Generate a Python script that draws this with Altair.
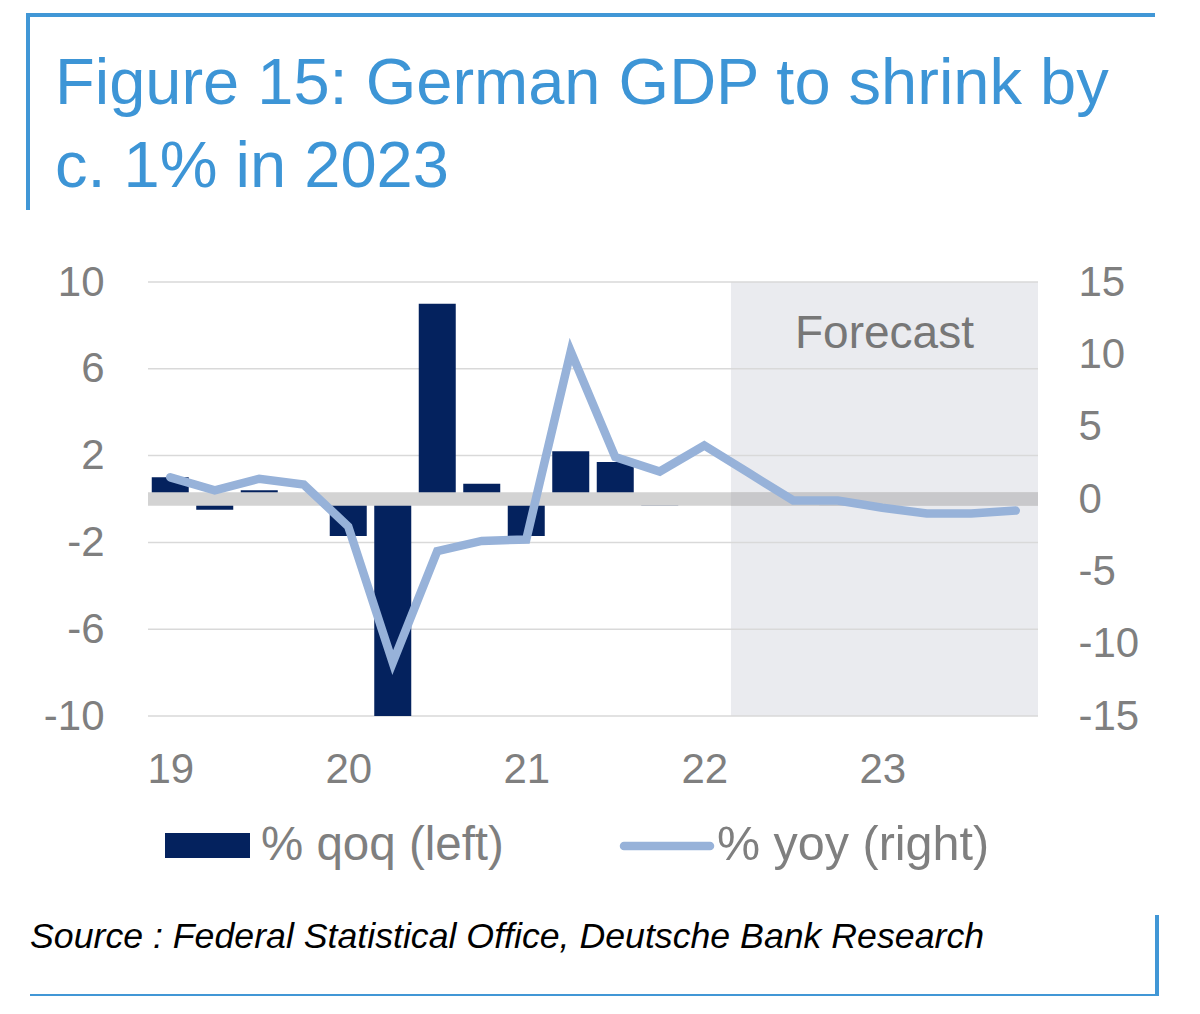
import altair as alt
import pandas as pd

# ---- data ----
quarters = ["19Q1", "19Q2", "19Q3", "19Q4", "20Q1", "20Q2", "20Q3", "20Q4",
            "21Q1", "21Q2", "21Q3", "21Q4", "22Q1", "22Q2", "22Q3", "22Q4",
            "23Q1", "23Q2", "23Q3", "23Q4"]
qoq = [1.0, -0.5, 0.4, -0.1, -1.7, -10.0, 9.0, 0.7, -1.7, 2.2,
       1.7, -0.3, 0.2, 0.1, -0.2, -0.3, -0.2, -0.1, 0.1, 0.2]
yoy = [1.5, 0.6, 1.4, 1.0, -1.9, -11.3, -3.6, -2.9, -2.8, 10.2,
       2.9, 1.9, 3.7, 1.8, -0.1, -0.1, -0.6, -1.0, -1.0, -0.8]
year_labels = ["19", "20", "21", "22", "23"]
left_ticks = [10, 6, 2, -2, -6, -10]
right_ticks = [15, 10, 5, 0, -5, -10, -15]
forecast_start = 12.6   # quarter index where the shaded forecast region begins
forecast_end = 19.5

series_qoq = "% qoq (left)"
series_yoy = "% yoy (right)"

df = pd.DataFrame({
    "idx": list(range(len(quarters))),
    "quarter": quarters,
    "qoq": qoq,
    "yoy": yoy,
})
grid_df = pd.DataFrame({"v": left_ticks})
one = pd.DataFrame({"k": [0]})

FONT = "Liberation Sans"
NAVY = "#04225e"
LIGHT = "#97b2d9"
GRAY_TXT = "#7f7f7f"
BLUE = "#4197d6"

x_scale = alt.Scale(domain=[-0.5, 19.5], nice=False, zero=False, padding=0)
label_expr = "[" + ",".join("'%s'" % s for s in year_labels) + "][datum.value / 4]"
x_axis = alt.Axis(values=[0, 4, 8, 12, 16], labelExpr=label_expr, grid=False,
                  domain=False, ticks=False, tickSize=0, labelPadding=33,
                  labelFontSize=42, labelColor=GRAY_TXT, labelFont=FONT, title=None)

y_left_scale = alt.Scale(domain=[-10, 10], nice=False)
y_left_axis = alt.Axis(values=left_ticks, labelExpr="'' + datum.value", grid=False,
                       domain=False, ticks=False, tickSize=0, labelPadding=44,
                       labelFontSize=42, labelColor=GRAY_TXT, labelFont=FONT, title=None)

shade = alt.Chart(one).mark_rect(color="#eaebef").encode(
    x=alt.X(datum=forecast_start, type="quantitative", scale=x_scale, axis=x_axis),
    x2=alt.X2(datum=forecast_end),
    y=alt.Y(datum=10, type="quantitative", scale=y_left_scale, axis=y_left_axis),
    y2=alt.Y2(datum=-10),
)

grid = alt.Chart(grid_df).mark_rule(color="#d9d9d9", strokeWidth=1.5).encode(
    y=alt.Y("v:Q", scale=y_left_scale, axis=y_left_axis),
)

bars = alt.Chart(df).mark_bar(color=NAVY, size=37).encode(
    x=alt.X("idx:Q", scale=x_scale, axis=x_axis),
    y=alt.Y("qoq:Q", scale=y_left_scale, axis=y_left_axis),
    tooltip=["quarter", "qoq"],
)

zero_band = alt.Chart(one).mark_rule(color="#d3d3d3", strokeWidth=13.5).encode(
    y=alt.Y(datum=0, type="quantitative", scale=y_left_scale, axis=y_left_axis),
)
zero_band_fc = alt.Chart(one).mark_rule(color="#c8c8cb", strokeWidth=13.5).encode(
    x=alt.X(datum=forecast_start, type="quantitative", scale=x_scale, axis=x_axis),
    x2=alt.X2(datum=forecast_end),
    y=alt.Y(datum=0, type="quantitative", scale=y_left_scale, axis=y_left_axis),
)

forecast_text = alt.Chart(one).mark_text(
    text="Forecast", font=FONT, fontSize=46, color="#777777", align="center", baseline="alphabetic"
).encode(
    x=alt.X(datum=(forecast_start + forecast_end) / 2, type="quantitative", scale=x_scale, axis=x_axis),
    y=alt.value(66),
)

# ---- legend, source and frame decorations ----
leg_bar = alt.Chart(one).mark_rect(color=NAVY).encode(
    x=alt.value(17), x2=alt.value(102), y=alt.value(551), y2=alt.value(576))
leg_bar_txt = alt.Chart(one).mark_text(
    text=series_qoq, font=FONT, fontSize=47.5, color=GRAY_TXT, align="left", baseline="alphabetic"
).encode(x=alt.value(113), y=alt.value(578))
leg_line = alt.Chart(one).mark_rule(color=LIGHT, strokeWidth=8.5, strokeCap="round").encode(
    x=alt.value(476), x2=alt.value(562), y=alt.value(564))
leg_line_txt = alt.Chart(one).mark_text(
    text=series_yoy, font=FONT, fontSize=48.5, color=GRAY_TXT, align="left", baseline="alphabetic"
).encode(x=alt.value(569), y=alt.value(578))

source_txt = alt.Chart(one).mark_text(
    text="Source : Federal Statistical Office, Deutsche Bank Research",
    font=FONT, fontStyle="italic", fontSize=35.7, color="#000000",
    align="left", baseline="alphabetic"
).encode(x=alt.value(-118), y=alt.value(666))

frame_top = alt.Chart(one).mark_rule(color=BLUE, strokeWidth=4).encode(
    x=alt.value(-120), x2=alt.value(1007), y=alt.value(-267))
frame_left = alt.Chart(one).mark_rule(color=BLUE, strokeWidth=4).encode(
    x=alt.value(-120), y=alt.value(-269), y2=alt.value(-72))
frame_bottom = alt.Chart(one).mark_rule(color=BLUE, strokeWidth=4).encode(
    x=alt.value(-118), x2=alt.value(1011), y=alt.value(714))
frame_right = alt.Chart(one).mark_rule(color=BLUE, strokeWidth=4).encode(
    x=alt.value(1009), y=alt.value(633), y2=alt.value(716))

left = alt.layer(shade, grid, bars, zero_band, zero_band_fc, forecast_text,
                 leg_bar, leg_bar_txt, leg_line, leg_line_txt, source_txt,
                 frame_top, frame_left, frame_bottom, frame_right)

line = alt.Chart(df).mark_line(color=LIGHT, strokeWidth=8.5, strokeCap="round").encode(
    x=alt.X("idx:Q", scale=x_scale, axis=x_axis),
    y=alt.Y("yoy:Q", scale=alt.Scale(domain=[-15, 15], nice=False),
            axis=alt.Axis(orient="right", values=right_ticks, labelExpr="'' + datum.value",
                          grid=False, domain=False, ticks=False, tickSize=0, labelPadding=40,
                          labelFontSize=42, labelColor=GRAY_TXT, labelFont=FONT, title=None)),
    tooltip=["quarter", "yoy"],
)

chart = alt.layer(left, line).resolve_scale(y="independent").properties(
    width=890,
    height=434,
    autosize=alt.AutoSizeParams(type="none"),
    padding={"left": 140, "top": 274, "right": 150, "bottom": 280},
    title=alt.TitleParams(
        text=["Figure 15: German GDP to shrink by", "c. 1% in 2023"],
        anchor="start", frame="group", font=FONT, fontSize=65, fontWeight="normal",
        color="#3d95d6", lineHeight=83, dx=-93, offset=0, dy=190,
    ),
).configure_view(stroke=None)

chart.save("out.html", embed_options={"renderer": "svg", "actions": False})
